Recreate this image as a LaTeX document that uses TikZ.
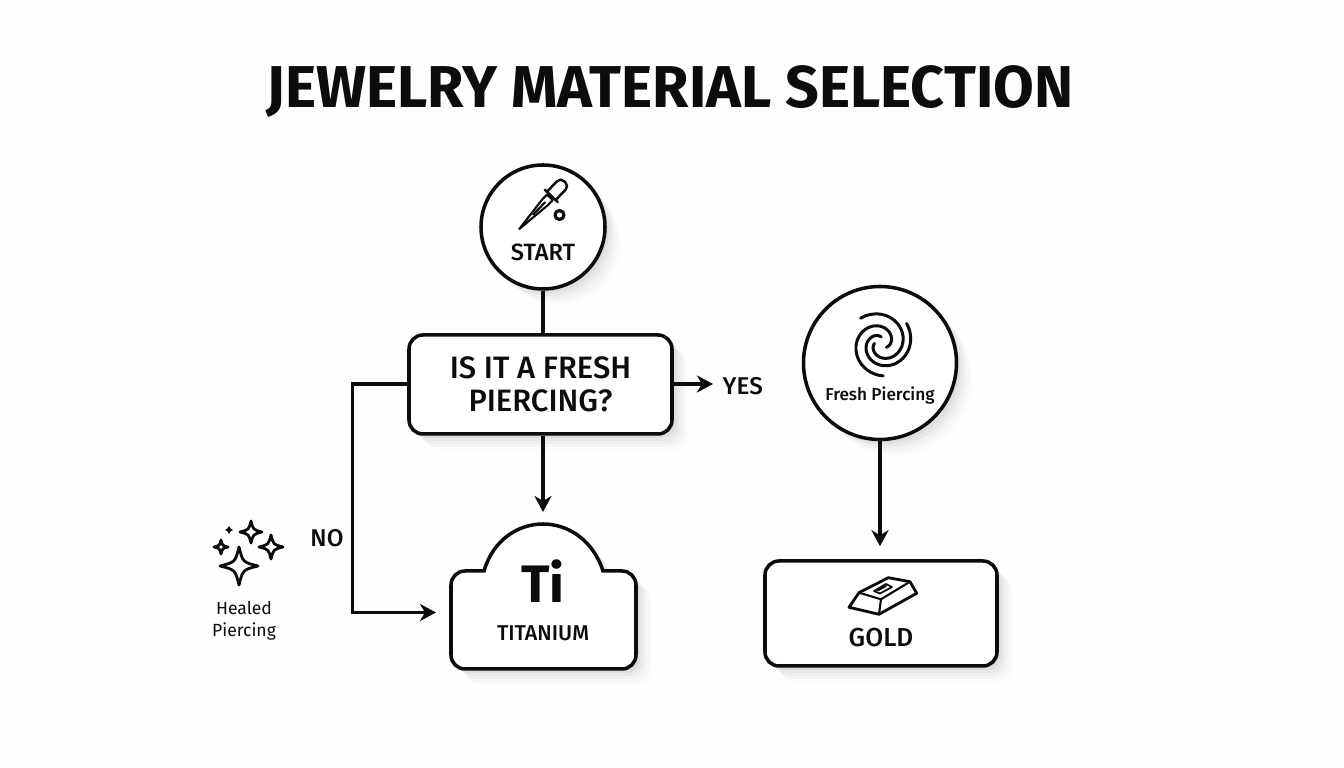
\documentclass[tikz,border=0pt]{standalone}
\usepackage{xcolor}
\usepackage{fontspec}
\usepackage{tikz}
\usetikzlibrary{shadows,arrows.meta}
\setmainfont{Fira Sans}
\newfontfamily\medfont{Fira Sans Medium}
\definecolor{inkblack}{RGB}{12,12,12}
\definecolor{paperwhite}{RGB}{254,254,254}
\tikzset{
  softshadow/.style={
    general shadow={shadow xshift=0.16cm,shadow yshift=-0.16cm,fill=black,opacity=0.012},
    general shadow={shadow xshift=0.13cm,shadow yshift=-0.13cm,fill=black,opacity=0.018},
    general shadow={shadow xshift=0.10cm,shadow yshift=-0.10cm,fill=black,opacity=0.025},
    general shadow={shadow xshift=0.07cm,shadow yshift=-0.07cm,fill=black,opacity=0.03},
    general shadow={shadow xshift=0.04cm,shadow yshift=-0.04cm,fill=black,opacity=0.04}},
  outline/.style={draw=inkblack,line width=1pt,fill=white,softshadow},
  flowbox/.style={outline,rectangle,rounded corners=0.14cm,text=inkblack,align=center,inner sep=0pt},
  roundnode/.style={outline,circle,inner sep=0pt},
  flowline/.style={draw=inkblack,line width=1pt},
  flowarrow/.style={flowline,-{Stealth[length=0.16cm,width=0.17cm,inset=0.05cm]}},
  iconline/.style={draw=inkblack,line width=0.6pt,line join=round,line cap=round},
  caption/.style={text=inkblack,font=\medfont\fontsize{6.1}{7.5}\selectfont,align=center,inner sep=0pt},
  flowlabel/.style={text=inkblack,font=\medfont\fontsize{6.9}{8}\selectfont,inner sep=0pt}
}

\begin{document}
\begin{tikzpicture}
\useasboundingbox[fill=paperwhite] (0,0) rectangle (13.44,7.68);
% Title
\node[text=inkblack,font=\bfseries\fontsize{16.8}{18}\selectfont,inner sep=0pt] (title) at (6.70,6.76) {JEWELRY MATERIAL SELECTION};
% Flow nodes
\node[roundnode,minimum size=1.24cm] (start) at (5.43,5.41) {};
\node[flowbox,minimum width=2.63cm,minimum height=0.99cm,font=\medfont\fontsize{8.8}{9.3}\selectfont] (question) at (5.405,3.835) {IS IT A FRESH\\PIERCING?};
\node[roundnode,minimum size=1.53cm] (fresh) at (8.80,4.05) {};
\node[flowbox,minimum width=2.32cm,minimum height=1.05cm] (gold) at (8.81,1.545) {};
% Titanium block with its dome
\draw[outline] (4.51,1.13) -- (4.51,1.83) arc[start angle=180,end angle=90,radius=0.14] -- (4.84,1.97)
  .. controls (4.93,2.28) and (5.18,2.44) .. (5.43,2.44) .. controls (5.68,2.44) and (5.93,2.28) .. (6.03,1.97)
  -- (6.22,1.97) arc[start angle=90,end angle=0,radius=0.14] -- (6.36,1.13) arc[start angle=0,end angle=-90,radius=0.14]
  -- (4.65,0.99) arc[start angle=-90,end angle=-180,radius=0.14] -- cycle;
\coordinate (tiTop) at (5.43,2.56);
\coordinate (tiLeft) at (4.36,1.555);
\coordinate (noCorner) at (3.525,3.84);
\coordinate (noBottom) at (3.525,1.555);
\coordinate (yesTip) at (7.13,3.84);
% Connectors
\draw[flowline] (start) -- (start |- question.north);
\draw[flowarrow] (question.south -| tiTop) -- (tiTop);
\draw[flowarrow] (question.west |- noCorner) -- (noCorner) -- (noBottom) -- (tiLeft);
\draw[flowarrow] (question.east |- yesTip) -- (yesTip);
\draw[flowarrow,shorten >=0.13cm] (fresh) -- (fresh |- gold.north);
\node[flowlabel,anchor=west] (yes) at (7.22,3.82) {YES};
\node[flowlabel] (no) at (3.27,2.30) {NO};
% Node texts
\node[caption,font=\medfont\fontsize{6.7}{8}\selectfont] (startText) at (5.43,5.16) {START};
\node[caption,font=\medfont\fontsize{4.9}{7}\selectfont] (freshText) at (8.80,3.72) {Fresh Piercing};
\node[text=inkblack,font=\bfseries\fontsize{15}{16}\selectfont,inner sep=0pt] (tiSymbol) at (5.43,1.87) {Ti};
\node[caption] (tiText) at (5.43,1.35) {TITANIUM};
\node[caption,font=\medfont\fontsize{7.4}{8}\selectfont] (goldText) at (8.81,1.30) {GOLD};
\node[caption,font=\fontsize{5}{6.2}\selectfont] (healed) at (2.44,1.47) {Healed\\Piercing};
% Needle icon
\begin{scope}[shift={(5.193,5.39)},rotate=46]
\draw[iconline] (0,0) -- (0.37,0.04) -- (0.44,0.04) -- (0.44,-0.04) -- (0.37,-0.04) -- cycle;
\draw[iconline] (0.20,0) -- (0.37,0);
\draw[iconline,line width=0.7pt] (0.46,-0.09) -- (0.46,0.09);
\draw[iconline,line width=0.7pt,rounded corners=0.05cm] (0.46,0.06) -- (0.655,0.06) -- (0.655,-0.06) -- (0.46,-0.06);
\end{scope}
\draw[iconline,line width=0.9pt] (5.595,5.53) circle (0.045);
% Spiral icon
\foreach \startangle in {129,38,-86}
  \draw[iconline,line width=0.85pt] plot[domain=0:1,samples=40,smooth] ({8.81+(0.325-0.26*\x)*cos(\startangle-310*\x)},{4.245+(0.325-0.26*\x)*sin(\startangle-310*\x)});
% Sparkles icon
\foreach \sx/\sy/\sr in {2.39/2.02/0.19,2.51/2.36/0.11,2.71/2.21/0.12,2.21/2.21/0.07}
  \draw[iconline,line width=0.8pt] (\sx,\sy+\sr) .. controls (\sx+0.2*\sr,\sy+0.2*\sr) .. (\sx+\sr,\sy) .. controls (\sx+0.2*\sr,\sy-0.2*\sr) .. (\sx,\sy-\sr) .. controls (\sx-0.2*\sr,\sy-0.2*\sr) .. (\sx-\sr,\sy) .. controls (\sx-0.2*\sr,\sy+0.2*\sr) .. cycle;
\fill[inkblack] (2.29,2.42) -- (2.305,2.395) -- (2.33,2.38) -- (2.305,2.365) -- (2.29,2.34) -- (2.275,2.365) -- (2.25,2.38) -- (2.275,2.395) -- cycle;
% Gold bar icon
\draw[iconline,line width=0.8pt] (8.49,1.607) -- (8.59,1.753) -- (8.883,1.903) -- (9.10,1.863) -- (9.167,1.747) -- (8.79,1.537) -- cycle;
\draw[iconline] (8.59,1.753) -- (8.81,1.687) -- (9.10,1.863);
\draw[iconline] (8.81,1.687) -- (8.79,1.537);
\draw[iconline,line width=0.5pt] (8.74,1.77) -- (8.86,1.84) -- (8.92,1.81) -- (8.80,1.745) -- cycle;
\draw[iconline,line width=0.5pt] (8.78,1.775) -- (8.86,1.82);
\end{tikzpicture}
\end{document}
